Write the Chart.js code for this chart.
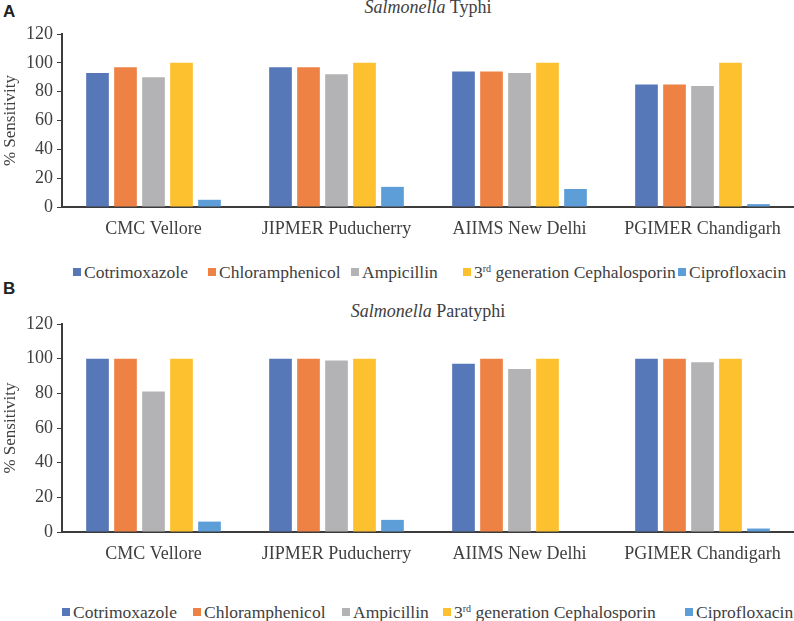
<!DOCTYPE html>
<html>
<head>
<meta charset="utf-8">
<script src="https://cdn.jsdelivr.net/npm/chart.js@4.4.1/dist/chart.umd.min.js"></script>
<style>
  body { margin: 0; background: #fff; width: 794px; height: 621px; position: relative; overflow: hidden; font-family: "Liberation Serif", "Times New Roman", serif; color: #404040; }
  .panel { position: absolute; left: 0; width: 794px; }
  .tag { position: absolute; left: 3px; font: bold 17px "Liberation Sans", Arial, sans-serif; color: #222; }
  .title { position: absolute; left: 62px; width: 732px; text-align: center; font-size: 18px; color: #404040; }
  .legend { position: absolute; left: 0; width: 794px; height: 22px; font-size: 17.5px; color: #404040; white-space: nowrap; }
  .legend .item { position: absolute; top: 0; display: flex; align-items: center; height: 22px; }
  .legend .sw { width: 8px; height: 8px; margin-right: 3px; }
  sup { font-size: 10px; vertical-align: 6px; }
</style>
</head>
<body>
<div class="tag" style="top:2px">A</div>
<div class="title" style="top:-3px"><i>Salmonella</i> Typhi</div>
<div class="panel" style="top:0;height:241px"><canvas id="typhiChart"></canvas></div>
<div class="legend" id="typhiLegend" style="top:261px"></div>

<div class="tag" style="top:279px">B</div>
<div class="title" style="top:301px"><i>Salmonella</i> Paratyphi</div>
<div class="panel" style="top:290px;height:276px"><canvas id="paraChart"></canvas></div>
<div class="legend" id="paraLegend" style="top:601px"></div>

<script>
const centres = ['CMC Vellore', 'JIPMER Puducherry', 'AIIMS New Delhi', 'PGIMER Chandigarh'];
const drugs = ['Cotrimoxazole', 'Chloramphenicol', 'Ampicillin', '3rd generation Cephalosporin', 'Ciprofloxacin'];
const drugColors = ['#5677b8', '#ed8244', '#b3b3b5', '#fdc02f', '#5e9ed8'];
const yTicks = [0, 20, 40, 60, 80, 100, 120];

// Salmonella Typhi, % sensitivity per centre
const typhiCotrimoxazole = [93, 97, 94, 85];
const typhiChloramphenicol = [97, 97, 94, 85];
const typhiAmpicillin = [90, 92, 93, 84];
const typhiCephalosporin = [100, 100, 100, 100];
const typhiCiprofloxacin = [5, 14, 12.5, 2];

// Salmonella Paratyphi
const paraCotrimoxazole = [100, 100, 97, 100];
const paraChloramphenicol = [100, 100, 100, 100];
const paraAmpicillin = [81, 99, 94, 98];
const paraCephalosporin = [100, 100, 100, 100];
const paraCiprofloxacin = [6, 7, 0, 2];

const axisColor = '#3c3c3c';
const textColor = '#404040';
const serif = '"Liberation Serif", "Times New Roman", serif';

// legend entries sit where Excel wrapped them
function buildLegend(id, xs) {
  const el = document.getElementById(id);
  drugs.forEach((name, i) => {
    const item = document.createElement('span');
    item.className = 'item';
    item.style.left = xs[i] + 'px';
    const sw = document.createElement('span');
    sw.className = 'sw';
    sw.style.background = drugColors[i];
    const label = document.createElement('span');
    label.innerHTML = name.replace(/^3rd/, '3<sup>rd</sup>');
    item.appendChild(sw);
    item.appendChild(label);
    el.appendChild(item);
  });
}

function renderPanel(canvasId, series) {
  const ctx = document.getElementById(canvasId);
  if (!ctx) return;
  new Chart(ctx, {
    type: 'bar',
    data: {
      labels: centres,
      datasets: series.map((values, i) => ({
        label: drugs[i],
        data: values,
        backgroundColor: drugColors[i],
        categoryPercentage: 0.765,
        barPercentage: 0.81
      }))
    },
    options: {
      responsive: true,
      maintainAspectRatio: false,
      animation: false,
      layout: { padding: { top: 34, right: 0, left: 0, bottom: 0 } },
      plugins: { legend: { display: false }, tooltip: { enabled: false } },
      scales: {
        x: {
          grid: { display: false, drawTicks: false },
          border: { color: axisColor, width: 2 },
          ticks: { color: textColor, font: { family: serif, size: 18 }, padding: 11, maxRotation: 0 },
          afterFit: s => { s.height = 34; }
        },
        y: {
          min: 0,
          max: 120,
          afterBuildTicks: s => { s.ticks = yTicks.map(v => ({ value: v })); },
          grid: { drawOnChartArea: false, drawTicks: true, tickLength: 5, color: axisColor, tickWidth: 1 },
          border: { color: axisColor, width: 2 },
          ticks: { color: textColor, font: { family: serif, size: 18 }, padding: 4 },
          title: { display: true, text: '% Sensitivity', color: textColor, font: { family: serif, size: 17 }, padding: 0 },
          afterFit: s => { s.width = 62; }
        }
      }
    }
  });
}

buildLegend('typhiLegend', [73, 208, 351, 463, 678]);
buildLegend('paraLegend', [62, 193, 342, 443, 685]);
renderPanel('typhiChart', [typhiCotrimoxazole, typhiChloramphenicol, typhiAmpicillin, typhiCephalosporin, typhiCiprofloxacin]);
renderPanel('paraChart', [paraCotrimoxazole, paraChloramphenicol, paraAmpicillin, paraCephalosporin, paraCiprofloxacin]);
</script>
</body>
</html>
